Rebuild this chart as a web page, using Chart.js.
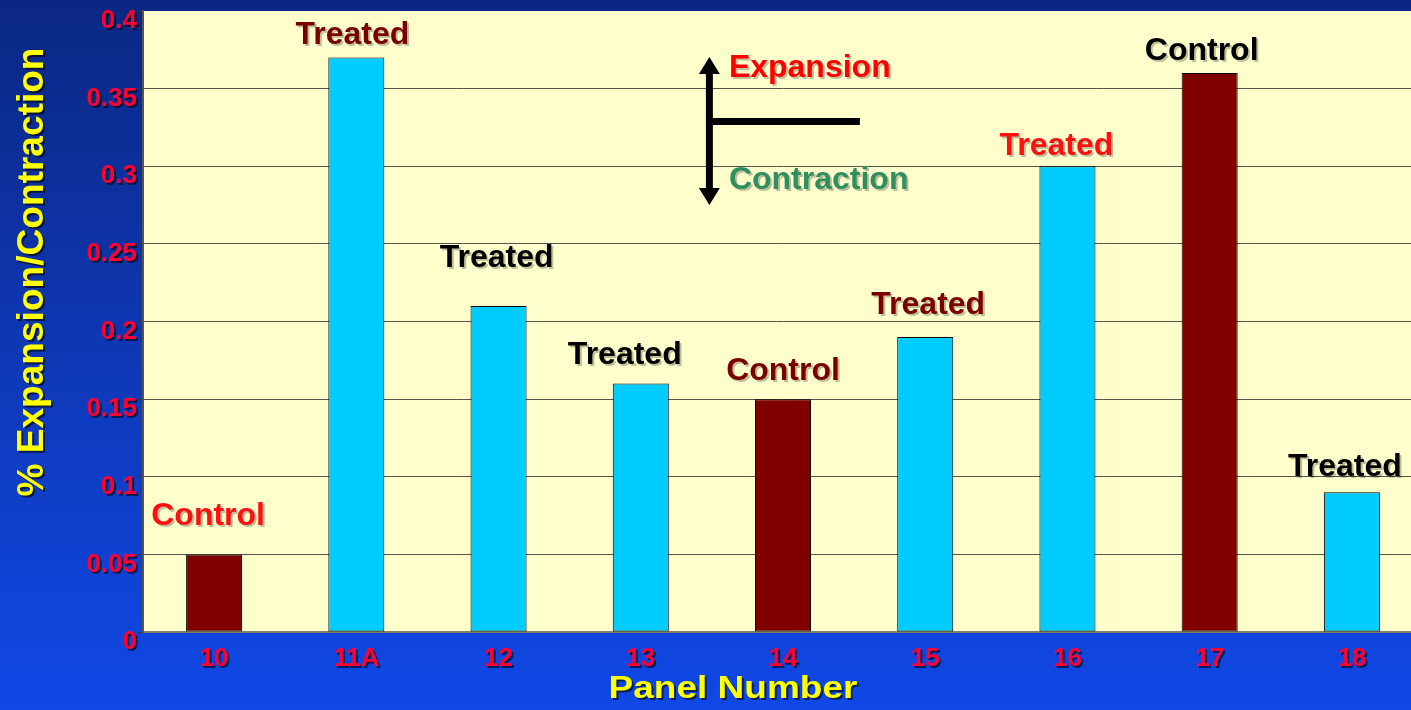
<!DOCTYPE html>
<html>
<head>
<meta charset="utf-8">
<script src="https://cdn.jsdelivr.net/npm/chart.js@4"></script>
<style>
  html, body { margin: 0; padding: 0; overflow: hidden; }
  body {
    width: 1411px; height: 710px;
    background: linear-gradient(to bottom, #0a2782 0%, #0e36b0 45%, #1048e6 100%);
  }
  #wrap { position: absolute; left: 0; top: 0; }
</style>
</head>
<body>
<div id="wrap"><canvas id="panelChart" width="1424" height="710"></canvas></div>
<script>
// panel numbers and % expansion
const panels = ['10', '11A', '12', '13', '14', '15', '16', '17', '18'];
const expansion = [0.05, 0.37, 0.21, 0.16, 0.15, 0.19, 0.30, 0.36, 0.09];
const groups = ['Control', 'Treated', 'Treated', 'Treated', 'Control', 'Treated', 'Treated', 'Control', 'Treated'];
const yMax = 0.4;
const yStep = 0.05;

// label styling (colour, nudge from bar centre, gap above bar top)
const labelColors = ['#ff1010', '#7a0000', '#000000', '#000000', '#7a0000', '#7a0000', '#ff1010', '#000000', '#000000'];
const labelNudgeX = [-6, -4, -2, -16, 0, 3, -11, -8, -7];
const labelGap = [29, 14, 39, 20, 19, 23, 11, 13, 16];

const groupColor = { Control: '#800000', Treated: '#00ccff' };
const FONT = "'Liberation Sans', Arial, sans-serif";

function setShadow(ctx, alpha) {
    ctx.shadowColor = `rgba(0,0,0,${alpha})`;
    ctx.shadowOffsetX = 2;
    ctx.shadowOffsetY = 2;
    ctx.shadowBlur = 0;
}

const plotBackground = {
    id: 'plotBackground',
    beforeDraw(chart) {
        const { ctx, chartArea: a } = chart;
        ctx.save();
        ctx.fillStyle = '#ffffcc';
        ctx.fillRect(a.left, a.top, a.right - a.left, a.bottom - a.top);
        ctx.restore();
    }
};

const barLabels = {
    id: 'barLabels',
    afterDatasetsDraw(chart) {
        const { ctx } = chart;
        const meta = chart.getDatasetMeta(0);

        ctx.save();
        setShadow(ctx, 0.25);
        ctx.font = `bold 32px ${FONT}`;
        ctx.textAlign = 'center';
        ctx.textBaseline = 'alphabetic';
        meta.data.forEach((bar, i) => {
            ctx.fillStyle = labelColors[i];
            ctx.fillText(groups[i], bar.x + labelNudgeX[i], bar.y - labelGap[i]);
        });

        // expansion / contraction key
        const x = chart.scales.x;
        const kx = (x.getPixelForValue(3) + x.getPixelForValue(4)) / 2 - 3;
        ctx.shadowColor = 'transparent';
        ctx.fillStyle = '#000';
        ctx.fillRect(kx - 3, 70, 7, 122);
        ctx.fillRect(kx, 118, 151, 7);
        ctx.beginPath();
        ctx.moveTo(kx + 0.5, 57); ctx.lineTo(kx - 10, 74); ctx.lineTo(kx + 11, 74); ctx.closePath();
        ctx.moveTo(kx + 0.5, 205); ctx.lineTo(kx - 10, 188); ctx.lineTo(kx + 11, 188); ctx.closePath();
        ctx.fill();

        setShadow(ctx, 0.25);
        ctx.textAlign = 'left';
        ctx.fillStyle = '#ff0000';
        ctx.fillText('Expansion', kx + 20, 77);
        ctx.fillStyle = '#2f8f5f';
        ctx.fillText('Contraction', kx + 20, 189);
        ctx.restore();

        // tick labels (drawn after this hook) pick up the dark shadow
        setShadow(ctx, 0.6);
    }
};

const axisTitles = {
    id: 'axisTitles',
    afterDraw(chart) {
        const { ctx } = chart;
        ctx.save();
        setShadow(ctx, 0.6);
        ctx.fillStyle = '#ffff00';
        ctx.textBaseline = 'alphabetic';
        ctx.textAlign = 'center';

        ctx.font = `bold 31px ${FONT}`;
        const w = ctx.measureText('Panel Number').width;
        ctx.save();
        ctx.translate(733, 698);
        ctx.scale(249 / w, 1);
        ctx.fillText('Panel Number', 0, 0);
        ctx.restore();

        ctx.font = `bold 36px ${FONT}`;
        const h = ctx.measureText('% Expansion/Contraction').width;
        ctx.save();
        ctx.translate(43, 272);
        ctx.rotate(-Math.PI / 2);
        ctx.scale(449 / h, 1);
        ctx.fillText('% Expansion/Contraction', 0, 0);
        ctx.restore();

        ctx.restore();
        ctx.shadowColor = 'transparent';
    }
};

new Chart(document.getElementById('panelChart'), {
    type: 'bar',
    data: {
        labels: panels,
        datasets: [{
            data: expansion,
            backgroundColor: groups.map(g => groupColor[g]),
            borderColor: '#000000',
            borderWidth: 1,
            borderSkipped: false,
            barPercentage: 0.394,
            categoryPercentage: 1.0
        }]
    },
    options: {
        responsive: false,
        animation: false,
        layout: { padding: { top: 11, right: 1, left: 0, bottom: 0 } },
        plugins: {
            legend: { display: false },
            tooltip: { enabled: false }
        },
        scales: {
            x: {
                grid: { display: false, drawTicks: false },
                border: { display: true, color: '#80806a', width: 2 },
                ticks: {
                    z: 1,
                    color: '#ff0033',
                    padding: 11,
                    font: { family: FONT, size: 26, weight: 'bold' }
                },
                afterFit(scale) { scale.height = 78; }
            },
            y: {
                min: 0,
                max: yMax,
                grid: {
                    color: ctx => (ctx.tick && ctx.tick.value >= yMax ? 'rgba(0,0,0,0)' : '#55554a'),
                    tickColor: '#333333',
                    tickLength: 6,
                    lineWidth: 1
                },
                border: { display: true, color: '#55554a', width: 2 },
                ticks: {
                    z: 1,
                    stepSize: yStep,
                    padding: 0,
                    labelOffset: 10,
                    color: '#ff0033',
                    font: { family: FONT, size: 26, weight: 'bold', lineHeight: 0.8 },
                    callback: v => String(+v.toFixed(2))
                },
                afterFit(scale) { scale.width = 143; }
            }
        }
    },
    plugins: [plotBackground, barLabels, axisTitles]
});
</script>
</body>
</html>
